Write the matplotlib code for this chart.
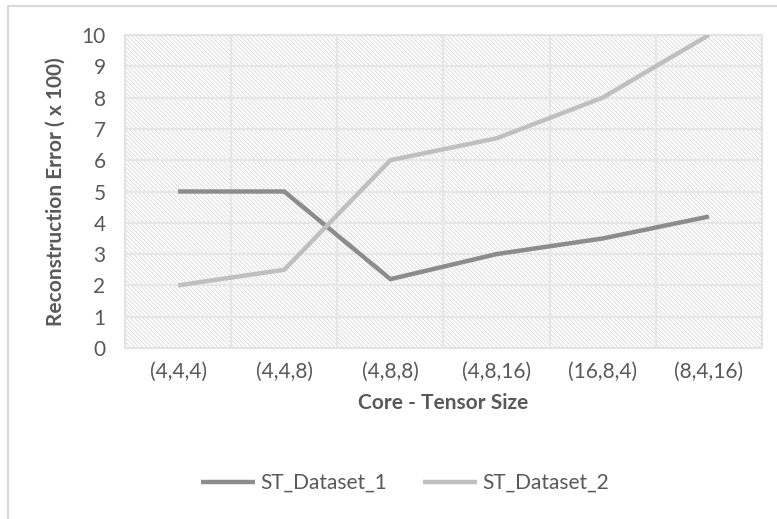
import numpy as np
import matplotlib.pyplot as plt
from matplotlib.patches import Rectangle

categories = ['(4,4,4)', '(4,4,8)', '(4,8,8)', '(4,8,16)', '(16,8,4)', '(8,4,16)']
st_dataset_1 = [5.0, 5.0, 2.2, 3.0, 3.5, 4.2]
st_dataset_2 = [2.0, 2.5, 6.0, 6.7, 8.0, 10.0]

txt = '#595959'
plt.rcParams['font.family'] = ['Lato', 'DejaVu Sans']
plt.rcParams['hatch.linewidth'] = 0.7

fig = plt.figure(figsize=(7.77, 5.19), dpi=100)
ax = fig.add_axes([125 / 777, 1 - 348 / 519, 637 / 777, 313 / 519])

# chart border (Excel style)
fig.patches.append(Rectangle((8 / 777, -0.1), 1.2, 1 - 6 / 519 + 0.1,
                             transform=fig.transFigure, fill=False,
                             edgecolor='#d9d9d9', linewidth=1.5))

# hatched plot area
ax.add_patch(Rectangle((0, 0), 1, 1, transform=ax.transAxes, facecolor='white',
                       edgecolor='#dcdcdc', linewidth=0, hatch='\\' * 8, zorder=0))

x = np.arange(len(categories))
ax.plot(x, st_dataset_1, color='#8c8c8c', lw=3.2, label='ST_Dataset_1',
        solid_capstyle='butt', zorder=3)
ax.plot(x, st_dataset_2, color='#bfbfbf', lw=3.2, label='ST_Dataset_2',
        solid_capstyle='butt', zorder=3)

ax.set_xlim(-0.5, len(categories) - 0.5)
ax.set_ylim(0, 10)
ax.set_yticks(range(0, 11))
ax.set_xticks(x)
ax.set_xticklabels(categories)
ax.set_xticks(np.arange(-0.5, len(categories), 0.5), minor=True)
ax.grid(True, which='minor', axis='x', color='#e6e6e6', lw=1.6, zorder=1)
ax.grid(True, which='major', axis='y', color='#e6e6e6', lw=1.6, zorder=1)
ax.set_axisbelow(True)

for s in ax.spines.values():
    s.set_color('#e3e3e3')
    s.set_linewidth(1.4)

ax.tick_params(axis='both', which='both', length=0, labelsize=15, colors=txt)
ax.tick_params(axis='x', pad=10)
ax.tick_params(axis='y', pad=14)

ax.set_xlabel('Core - Tensor Size', fontsize=15, fontweight='bold', color=txt, labelpad=8)
ax.set_ylabel('Reconstruction Error ( x 100)', fontsize=15, fontweight='bold', color=txt, labelpad=11)

fig.legend(loc='center', bbox_to_anchor=(405 / 777, 1 - 483 / 519), ncol=2,
           frameon=False, fontsize=15, labelcolor=txt, handlelength=2.6,
           columnspacing=1.7, handletextpad=0.25)

fig.savefig('out.png', dpi=100)
